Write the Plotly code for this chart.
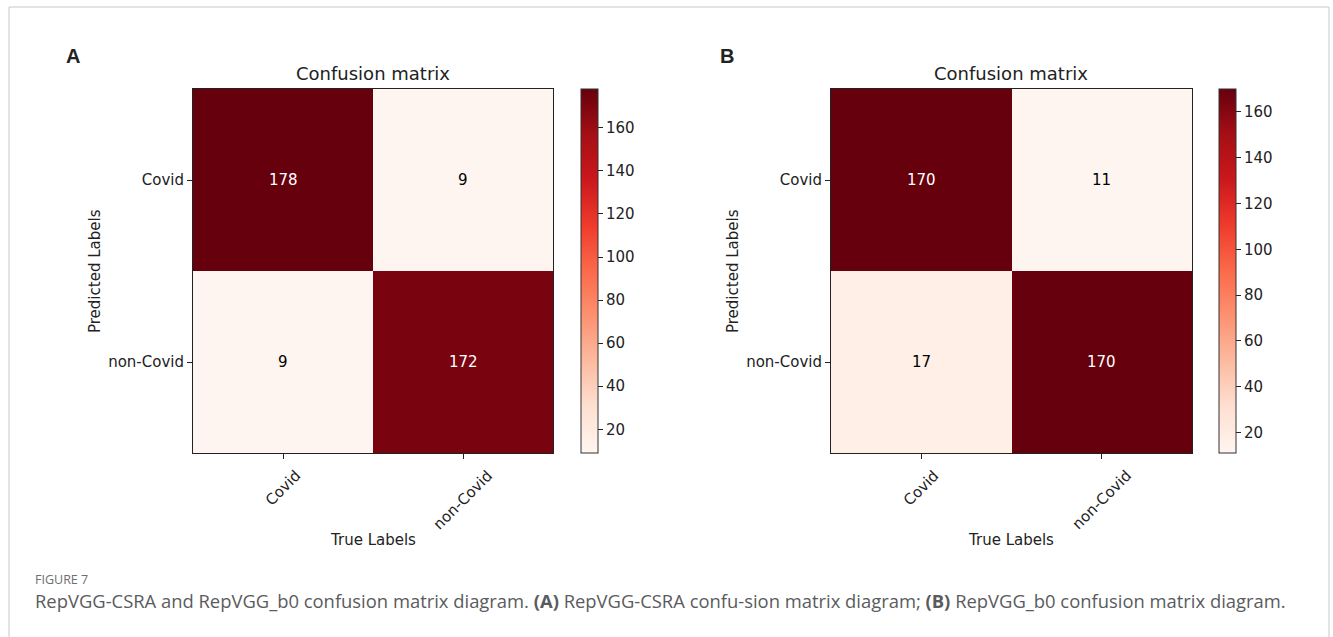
import plotly.graph_objects as go
from plotly.colors import sequential

labels = ["Covid", "non-Covid"]
cm_a = [[178, 9], [9, 172]]
cm_b = [[170, 11], [17, 170]]
cbar_ticks = [20, 40, 60, 80, 100, 120, 140, 160]
panel_titles = ["Confusion matrix", "Confusion matrix"]
panel_letters = ["A", "B"]
caption_head = "FIGURE 7"
caption_text = ("RepVGG-CSRA and RepVGG_b0 confusion matrix diagram. <b>(A)</b> RepVGG-CSRA "
                "confu-sion matrix diagram; <b>(B)</b> RepVGG_b0 confusion matrix diagram.")

W, H = 1333, 637
def px(x):
    return x / W
def py(y):
    return 1 - y / H

reds = sequential.Reds
scale = [[i / (len(reds) - 1), c] for i, c in enumerate(reds)]
FONT = "DejaVu Sans"
FS = 15

fig = go.Figure()

panels = [
    dict(cm=cm_a, x0=193, x1=553, cbx=581, xa="x", ya="y", xl="xaxis", yl="yaxis", lx=73, title_x=373),
    dict(cm=cm_b, x0=831, x1=1192, cbx=1219, xa="x2", ya="y2", xl="xaxis2", yl="yaxis2", lx=727, title_x=1011),
]
top, bottom = 89, 453

annotations = []
for i, p in enumerate(panels):
    cm = p["cm"]
    flat = [v for row in cm for v in row]
    zmin, zmax = min(flat), max(flat)
    fig.add_trace(go.Heatmap(
        z=cm, x=labels, y=labels, xaxis=p["xa"], yaxis=p["ya"],
        colorscale=scale, zmin=zmin, zmax=zmax, hoverinfo="skip",
        colorbar=dict(
            x=px(p["cbx"]), xanchor="left", y=py((top + bottom) / 2), yanchor="middle",
            lenmode="pixels", len=bottom - top, thickness=17, xpad=0, ypad=0,
            outlinewidth=1, outlinecolor="#333", ticks="outside", ticklen=5,
            tickcolor="#222", tickvals=cbar_ticks,
            tickfont=dict(family=FONT, size=FS, color="#222"),
        ),
    ))
    axcommon = dict(showline=True, mirror=True, linecolor="#222", linewidth=1,
                    ticks="outside", ticklen=5, tickcolor="#222", showgrid=False,
                    zeroline=False, tickfont=dict(family=FONT, size=FS, color="#222"))
    fig.update_layout(**{
        p["xl"]: dict(domain=[px(p["x0"]), px(p["x1"])], anchor=p["ya"],
                      showticklabels=False, **axcommon),
        p["yl"]: dict(domain=[py(bottom), py(top)], anchor=p["xa"],
                      autorange="reversed", **axcommon),
    })
    thresh = zmax / 2
    for r, row in enumerate(cm):
        for c, v in enumerate(row):
            annotations.append(dict(
                x=labels[c], y=labels[r], xref=p["xa"], yref=p["ya"], text=str(v),
                showarrow=False, font=dict(family=FONT, size=FS,
                                           color="white" if v > thresh else "black")))
    for lab in labels:
        annotations.append(dict(
            x=lab, y=py(464), xref=p["xa"], yref="paper", text=lab, textangle=-45,
            showarrow=False, xanchor="center", yanchor="top",
            font=dict(family=FONT, size=FS, color="#222")))
    annotations.append(dict(x=px(p["title_x"]), y=py(74), xref="paper", yref="paper",
                            text=panel_titles[i], showarrow=False, xanchor="center",
                            yanchor="middle", font=dict(family=FONT, size=18, color="#222")))
    annotations.append(dict(x=px(p["title_x"]), y=py(540), xref="paper", yref="paper",
                            text="True Labels", showarrow=False, xanchor="center",
                            yanchor="middle", font=dict(family=FONT, size=FS, color="#222")))
    annotations.append(dict(x=px(p["x0"] - 98), y=py((top + bottom) / 2), xref="paper",
                            yref="paper", text="Predicted Labels", textangle=-90,
                            showarrow=False, xanchor="center", yanchor="middle",
                            font=dict(family=FONT, size=FS, color="#222")))
    annotations.append(dict(x=px(p["lx"]), y=py(56), xref="paper", yref="paper",
                            text="<b>" + panel_letters[i] + "</b>", showarrow=False,
                            xanchor="center", yanchor="middle",
                            font=dict(family="Liberation Sans", size=20, color="#222")))

annotations.append(dict(x=px(33), y=py(579), xref="paper", yref="paper", text=caption_head,
                        showarrow=False, xanchor="left", yanchor="middle",
                        font=dict(family="Open Sans", size=12.5, color="#6d6e71")))
annotations.append(dict(x=px(33), y=py(600), xref="paper", yref="paper", text=caption_text,
                        showarrow=False, xanchor="left", yanchor="middle",
                        font=dict(family="Open Sans", size=18.4, color="#5a5b5d")))

fig.update_layout(
    width=W, height=H, margin=dict(l=0, r=0, t=0, b=0),
    paper_bgcolor="white", plot_bgcolor="white", annotations=annotations,
    shapes=[dict(type="rect", xref="paper", yref="paper", x0=px(9), x1=px(1329),
                 y0=py(650), y1=py(7), line=dict(color="#c8c8c8", width=1))],
)

fig.write_html("out.html", config={"displayModeBar": False},
               post_script="document.body.style.margin='0';document.body.style.overflow='hidden';")
